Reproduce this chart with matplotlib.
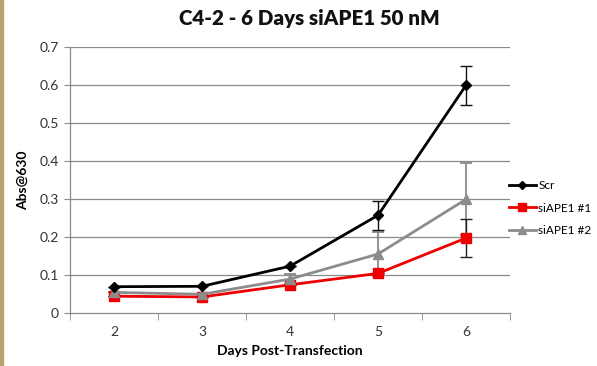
import matplotlib
matplotlib.use("Agg")
import matplotlib.pyplot as plt
from matplotlib.patches import Rectangle

days = [2, 3, 4, 5, 6]
scr = [0.070, 0.071, 0.124, 0.258, 0.600]
scr_err = [0.0, 0.0, 0.0, 0.038, 0.051]
si1 = [0.045, 0.043, 0.075, 0.105, 0.198]
si1_err = [0.0, 0.0, 0.0, 0.0, 0.050]
si2 = [0.055, 0.050, 0.090, 0.156, 0.300]
si2_err = [0.0, 0.0, 0.014, 0.057, 0.095]
series_names = ["Scr", "siAPE1 #1", "siAPE1 #2"]
title = "C4-2 - 6 Days siAPE1 50 nM"
xlabel = "Days Post-Transfection"
ylabel = "Abs@630"
yticks = [0, 0.1, 0.2, 0.3, 0.4, 0.5, 0.6, 0.7]

plt.rcParams['font.family'] = ['Lato', 'DejaVu Sans']

fig = plt.figure(figsize=(5.97, 3.66), dpi=100)
ax = fig.add_axes([70/597, 1-313.3/366, 440/597, 266/366])

grid_c = "#8a8a8a"
for y in yticks[1:]:
    ax.axhline(y, color=grid_c, lw=0.9, zorder=0)

# error bars
ax.errorbar(days, si2, yerr=si2_err, fmt='none', ecolor='#808080', elinewidth=1.2, capsize=4, capthick=1.2, zorder=2)
ax.errorbar(days, si1, yerr=si1_err, fmt='none', ecolor='#222222', elinewidth=1.0, capsize=4, capthick=1.0, zorder=2)
ax.errorbar(days, scr, yerr=scr_err, fmt='none', ecolor='#111111', elinewidth=1.0, capsize=4, capthick=1.0, zorder=2)

l1, = ax.plot(days, scr, color='black', lw=2.0, marker='D', ms=5, zorder=5)
l2, = ax.plot(days, si1, color='#ee0000', lw=2.0, marker='s', ms=7, zorder=3)
l3, = ax.plot(days, si2, color='#8c8c8c', lw=2.0, marker='^', ms=7, zorder=4)

ax.set_xlim(1.5, 6.5)
ax.set_ylim(0, 0.7)
ax.set_yticks(yticks)
ax.set_yticklabels(["0", "0.1", "0.2", "0.3", "0.4", "0.5", "0.6", "0.7"])
ax.set_xticks(days)
ax.set_xticks([1.5, 2.5, 3.5, 4.5, 5.5, 6.5], minor=True)
ax.tick_params(axis='x', which='major', length=0, pad=9, labelsize=10, labelcolor='#333333')
ax.tick_params(axis='x', which='minor', length=5, color=grid_c, direction='out')
ax.tick_params(axis='y', which='major', length=4, color=grid_c, pad=4, labelsize=10, labelcolor='#333333')

for s in ['top', 'right']:
    ax.spines[s].set_visible(False)
for s in ['left', 'bottom']:
    ax.spines[s].set_color(grid_c)
    ax.spines[s].set_linewidth(0.9)

ax.set_xlabel(xlabel, fontsize=10, fontweight='bold', labelpad=5)
ax.set_ylabel(ylabel, fontsize=10, fontweight='bold', labelpad=8)
fig.text(309/597, 1-18/366, title, ha='center', va='center', fontsize=14.8, fontweight='heavy', color='#111111')

fig.legend([l1, l2, l3], series_names, loc='center left', bbox_to_anchor=(498/597, 1-208/366),
           frameon=False, fontsize=8.5, handlelength=2.3, handletextpad=0.2, labelspacing=1.0,
           markerscale=0.8)

# thin decorative strip on the left edge
fig.patches.append(Rectangle((0, 0), 3/597, 1, transform=fig.transFigure, color='#b8a46a', zorder=-1))

fig.savefig("out.png", dpi=100)
